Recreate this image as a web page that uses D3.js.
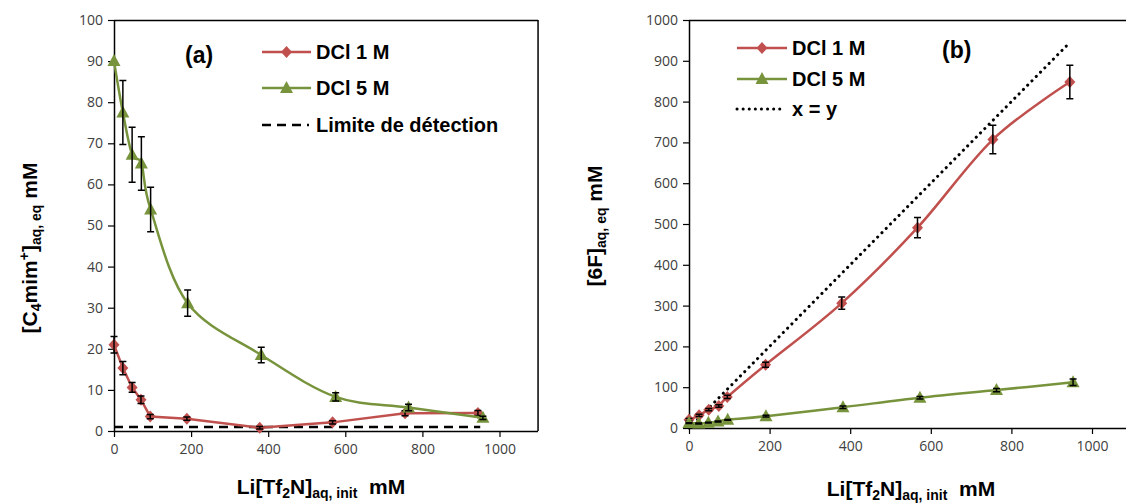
<!DOCTYPE html>
<html><head><meta charset="utf-8">
<script src="https://cdn.jsdelivr.net/npm/d3@7"></script>
<style>
html,body{margin:0;padding:0;background:#fff;}
svg{display:block;}
.tick text{font-family:"Open Sans",sans-serif;font-size:14px;fill:#404040;}
.ttl{font-family:"Liberation Sans",Arial,sans-serif;font-weight:bold;fill:#000;}
</style></head>
<body>
<svg id="c" width="1126" height="504"></svg>
<script>
// ---------- DATA ----------
// Panel (a): [C4mim+]aq,eq vs Li[Tf2N]aq,init
const xA_red   = [0, 23, 47, 70, 94, 189, 378, 567, 755, 944];
const yA_red   = [21, 15.3, 10.6, 7.6, 3.5, 3.0, 0.8, 2.1, 4.3, 4.4];
const eA_red   = [2.0, 1.6, 1.2, 0.9, 0.5, 0.4, 0.3, 0.4, 0.6, 0.6];
const xA_green = [0, 23, 47, 71, 95, 191, 382, 575, 764, 957];
const yA_green = [90, 77.5, 67.2, 65.1, 53.9, 31.1, 18.5, 8.3, 5.7, 3.2];
const eA_green = [0, 7.8, 6.7, 6.5, 5.4, 3.2, 1.9, 1.0, 0.8, 0.4];
const xA_limit = [0, 950];
const yA_limit = [1, 1];
const ticksA_x = [0, 200, 400, 600, 800, 1000];
const ticksA_y = [0, 10, 20, 30, 40, 50, 60, 70, 80, 90, 100];

// Panel (b): [6F]aq,eq vs Li[Tf2N]aq,init
const xB_red   = [0, 25, 49, 74, 95, 190, 379, 567, 754, 945];
const yB_red   = [20, 31, 45, 54, 76, 155, 306, 491, 707, 848];
const eB_red   = [3, 3, 3, 3, 4, 6, 15, 25, 35, 41];
const xB_green = [0, 24, 48, 72, 96, 191, 382, 573, 763, 953];
const yB_green = [12, 11, 13, 16, 20, 29, 51, 74, 93, 112];
const eB_green = [1, 1, 1, 1, 1, 2, 3, 3, 4, 8];
const xB_xy    = [0, 940];
const yB_xy    = [0, 940];
const ticksB_x = [0, 200, 400, 600, 800, 1000];
const ticksB_y = [0, 100, 200, 300, 400, 500, 600, 700, 800, 900, 1000];

const legendLabels = ["DCl 1 M", "DCl 5 M"];
const legendA3 = "Limite de détection";
const legendB3 = "x = y";

const RED = "#C0504D", GREEN = "#77933C";
const BIG = 21, SMALL = 14;

const svg = d3.select("#c");

function zip(xs, ys, es){ return xs.map((x,i)=>({x:x, y:ys[i], e: es ? es[i] : 0})); }

function diamond(g, x, y){
  g.append("path").attr("d", `M${x},${y-6}L${x+5.5},${y}L${x},${y+6}L${x-5.5},${y}Z`).attr("fill", RED);
}
function triangle(g, x, y){
  g.append("path").attr("d", `M${x},${y-7}L${x+6.5},${y+5}L${x-6.5},${y+5}Z`).attr("fill", GREEN);
}

function panel(cfg){
  const g = svg.append("g");
  const x = d3.scaleLinear().domain([0, 1100]).range([cfg.left, cfg.left + 1100*cfg.pxPerX]);
  const y = d3.scaleLinear().domain([0, cfg.ymax]).range([cfg.bottom, cfg.top]);

  // frame (top & right)
  g.append("line").attr("x1", cfg.left).attr("x2", x(1100)).attr("y1", cfg.top+0.5).attr("y2", cfg.top+0.5)
    .attr("stroke", "#000").attr("stroke-width", 1.5);
  g.append("line").attr("x1", x(1100)).attr("x2", x(1100)).attr("y1", cfg.top).attr("y2", cfg.bottom)
    .attr("stroke", "#000").attr("stroke-width", 1.5);

  const ax = g.append("g").attr("transform", `translate(0,${cfg.bottom})`)
    .call(d3.axisBottom(x).tickValues(cfg.ticksX).tickFormat(d3.format("d")).tickSize(6).tickPadding(7).tickSizeOuter(0));
  const ay = g.append("g").attr("transform", `translate(${cfg.left},0)`)
    .call(d3.axisLeft(y).tickValues(cfg.ticksY).tickFormat(d3.format("d")).tickSize(6).tickPadding(5).tickSizeOuter(0));
  [ax, ay].forEach(a => {
    a.select(".domain").attr("stroke", "#000").attr("stroke-width", 1.5);
    a.selectAll(".tick line").attr("stroke", "#000").attr("stroke-width", 1.2);
  });
  ax.select(".domain").attr("d", `M${cfg.left},0.5H${x(1100)}`);

  // reference line
  const refPts = zip(cfg.refX, cfg.refY);
  g.append("path").datum(refPts)
    .attr("d", d3.line().x(d=>x(d.x)).y(d=>y(d.y)))
    .attr("fill", "none").attr("stroke", "#000").attr("stroke-width", cfg.refWidth)
    .attr("stroke-dasharray", cfg.refDash).attr("stroke-linecap", cfg.refCap);

  cfg.series.forEach(s => {
    const pts = zip(s.x, s.y, s.e);
    g.append("path").datum(pts)
      .attr("d", d3.line().curve(s.smooth ? d3.curveCatmullRom.alpha(0) : d3.curveLinear).x(d=>x(d.x)).y(d=>y(d.y)))
      .attr("fill", "none").attr("stroke", s.color).attr("stroke-width", 2.5);
    pts.forEach(p => s.marker(g, x(p.x), y(p.y)));
    pts.forEach(p => {
      if (p.e <= 0) return;
      const cx = x(p.x), y1 = y(p.y + p.e), y2 = y(p.y - p.e);
      g.append("path").attr("d", `M${cx},${y1}V${y2}M${cx-3.5},${y1}H${cx+3.5}M${cx-3.5},${y2}H${cx+3.5}`)
        .attr("stroke", "#000").attr("stroke-width", 1.5).attr("fill", "none");
    });
  });

  // legend
  const L = cfg.legend;
  const lg = g.append("g");
  [[RED, diamond, legendLabels[0], L.y[0]], [GREEN, triangle, legendLabels[1], L.y[1]]].forEach(([c, m, t, ly]) => {
    lg.append("line").attr("x1", L.x0).attr("x2", L.x1).attr("y1", ly).attr("y2", ly).attr("stroke", c).attr("stroke-width", 2.5);
    m(lg, (L.x0+L.x1)/2, ly);
    lg.append("text").attr("class", "ttl").attr("x", L.tx).attr("y", ly+7).attr("font-size", 20).text(t);
  });
  lg.append("line").attr("x1", L.x0).attr("x2", L.x1 - 2).attr("y1", L.y[2]).attr("y2", L.y[2])
    .attr("stroke", "#000").attr("stroke-width", cfg.refWidth).attr("stroke-dasharray", cfg.refDash).attr("stroke-linecap", cfg.refCap);
  lg.append("text").attr("class", "ttl").attr("x", L.tx).attr("y", L.y[2]+7).attr("font-size", 20).text(L.third);

  g.append("text").attr("class", "ttl").attr("x", cfg.tag[0]).attr("y", cfg.tag[1]).attr("font-size", 23).text(cfg.tagText);

  // x title
  const xt = g.append("text").attr("class", "ttl").attr("x", cfg.xTitle[0]).attr("y", cfg.xTitle[1])
    .attr("text-anchor", "middle").attr("font-size", BIG);
  xt.append("tspan").text("Li[Tf");
  xt.append("tspan").attr("font-size", SMALL).attr("dy", 4).text("2");
  xt.append("tspan").attr("dy", -4).text("N]");
  xt.append("tspan").attr("font-size", SMALL).attr("dy", 4).text("aq, init");
  xt.append("tspan").attr("dy", -4).text("\u00a0 mM");

  // y title
  const yt = g.append("text").attr("class", "ttl")
    .attr("transform", `translate(${cfg.yTitle[0]},${cfg.yTitle[1]}) rotate(-90)`)
    .attr("text-anchor", "middle").attr("font-size", BIG);
  cfg.yTitleParts.forEach(p => {
    const ts = yt.append("tspan").text(p.t);
    if (p.s) ts.attr("font-size", SMALL);
    if (p.dy) ts.attr("dy", p.dy);
  });
}

panel({
  left: 114, pxPerX: 0.3855, top: 20, bottom: 431, ymax: 100,
  ticksX: ticksA_x, ticksY: ticksA_y,
  refX: xA_limit, refY: yA_limit, refWidth: 2.5, refDash: "9,6", refCap: "butt",
  series: [
    {x: xA_red, y: yA_red, e: eA_red, color: RED, marker: diamond, smooth: false},
    {x: xA_green, y: yA_green, e: eA_green, color: GREEN, marker: triangle, smooth: true}
  ],
  legend: {x0: 262, x1: 311, tx: 316, y: [52, 88, 125], third: legendA3},
  tag: [185, 63], tagText: "(a)",
  xTitle: [321, 494],
  yTitle: [37, 248],
  yTitleParts: [{t:"[C"}, {t:"4", s:true, dy:4}, {t:"mim", dy:-4}, {t:"+", s:true, dy:-8}, {t:"]", dy:8},
                {t:"aq, eq", s:true, dy:4}, {t:"\u00a0mM", dy:-4}]
});

panel({
  left: 689, pxPerX: 0.403, top: 20, bottom: 428, ymax: 1000,
  ticksX: ticksB_x, ticksY: ticksB_y,
  refX: xB_xy, refY: yB_xy, refWidth: 3, refDash: "0.1,6", refCap: "round",
  series: [
    {x: xB_red, y: yB_red, e: eB_red, color: RED, marker: diamond, smooth: true},
    {x: xB_green, y: yB_green, e: eB_green, color: GREEN, marker: triangle, smooth: true}
  ],
  legend: {x0: 737, x1: 787, tx: 792, y: [48, 79, 109], third: legendB3},
  tag: [942, 58], tagText: "(b)",
  xTitle: [911, 496],
  yTitle: [602, 226],
  yTitleParts: [{t:"[6F]"}, {t:"aq, eq", s:true, dy:4}, {t:"\u00a0mM", dy:-4}]
});
</script>
</body></html>
